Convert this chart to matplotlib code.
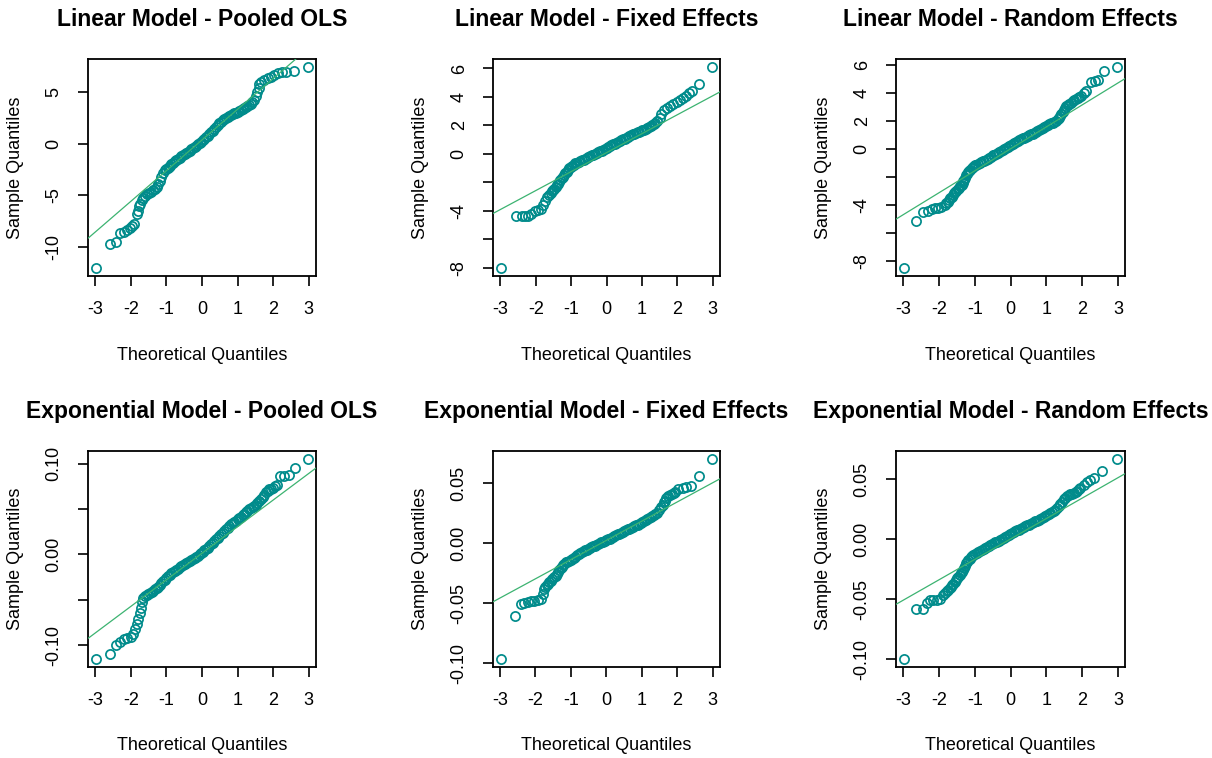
import numpy as np
import matplotlib.pyplot as plt

# Normal QQ plots of residuals for the six panel models

titles = ["Linear Model - Pooled OLS", "Linear Model - Fixed Effects",
          "Linear Model - Random Effects", "Exponential Model - Pooled OLS",
          "Exponential Model - Fixed Effects", "Exponential Model - Random Effects"]

# (theoretical quantile, sample quantile) per panel
lin_pooled = [
    (-2.97, -12.0), (-2.58, -9.71), (-2.42, -9.54), (-2.30, -8.63), (-2.19, -8.50), (-2.10, -8.30),
    (-2.02, -8.17), (-1.97, -7.97), (-1.91, -7.75), (-1.84, -6.76), (-1.81, -6.54), (-1.77, -6.01),
    (-1.74, -5.78), (-1.70, -5.42), (-1.65, -5.23), (-1.60, -5.03), (-1.54, -4.90), (-1.48, -4.77),
    (-1.43, -4.64), (-1.37, -4.51), (-1.32, -4.41), (-1.28, -4.18), (-1.23, -3.92), (-1.18, -3.59),
    (-1.14, -3.20), (-1.09, -2.84), (-1.04, -2.55), (-1.00, -2.45), (-0.97, -2.35), (-0.93, -2.24),
    (-0.90, -2.12), (-0.86, -1.98), (-0.81, -1.83), (-0.77, -1.70), (-0.72, -1.57), (-0.68, -1.45),
    (-0.63, -1.34), (-0.58, -1.22), (-0.53, -1.11), (-0.49, -1.02), (-0.44, -0.92), (-0.40, -0.81),
    (-0.35, -0.69), (-0.30, -0.55), (-0.25, -0.42), (-0.21, -0.31), (-0.16, -0.20), (-0.12, -0.07),
    (-0.07, 0.07), (-0.02, 0.20), (0.03, 0.33), (0.07, 0.47), (0.12, 0.62), (0.17, 0.78),
    (0.21, 0.92), (0.26, 1.08), (0.31, 1.24), (0.35, 1.42), (0.40, 1.60), (0.45, 1.78),
    (0.49, 1.96), (0.54, 2.12), (0.59, 2.25), (0.63, 2.37), (0.68, 2.48), (0.72, 2.59),
    (0.77, 2.68), (0.82, 2.76), (0.87, 2.84), (0.91, 2.93), (0.96, 3.01), (1.00, 3.09),
    (1.05, 3.17), (1.10, 3.25), (1.15, 3.33), (1.19, 3.43), (1.24, 3.53), (1.28, 3.64),
    (1.33, 3.76), (1.37, 3.87), (1.41, 3.99), (1.47, 4.25), (1.52, 4.58), (1.56, 5.00),
    (1.59, 5.42), (1.61, 5.75), (1.67, 5.98), (1.75, 6.18), (1.85, 6.34), (1.94, 6.47),
    (2.03, 6.67), (2.13, 6.86), (2.24, 6.92), (2.37, 6.95), (2.60, 6.97), (2.97, 7.40)]

lin_fixed = [
    (-2.97, -8.0), (-2.57, -4.34), (-2.40, -4.34), (-2.31, -4.34), (-2.22, -4.32), (-2.12, -4.22),
    (-2.03, -4.03), (-1.94, -3.92), (-1.85, -3.84), (-1.80, -3.61), (-1.75, -3.30), (-1.68, -3.02),
    (-1.62, -2.85), (-1.58, -2.74), (-1.54, -2.62), (-1.51, -2.52), (-1.48, -2.43), (-1.44, -2.31),
    (-1.40, -2.19), (-1.37, -2.08), (-1.34, -1.96), (-1.30, -1.84), (-1.27, -1.72), (-1.23, -1.60),
    (-1.20, -1.49), (-1.17, -1.37), (-1.13, -1.25), (-1.09, -1.13), (-1.05, -1.01), (-1.01, -0.92),
    (-0.97, -0.83), (-0.92, -0.74), (-0.88, -0.66), (-0.83, -0.60), (-0.78, -0.54), (-0.74, -0.50),
    (-0.69, -0.45), (-0.64, -0.39), (-0.60, -0.33), (-0.55, -0.27), (-0.51, -0.21), (-0.46, -0.15),
    (-0.42, -0.09), (-0.37, -0.05), (-0.32, 0.00), (-0.28, 0.06), (-0.23, 0.12), (-0.19, 0.18),
    (-0.14, 0.24), (-0.10, 0.30), (-0.05, 0.35), (0.00, 0.42), (0.05, 0.50), (0.09, 0.55),
    (0.14, 0.61), (0.18, 0.67), (0.23, 0.73), (0.28, 0.79), (0.32, 0.85), (0.37, 0.91),
    (0.42, 0.97), (0.46, 1.02), (0.51, 1.08), (0.55, 1.14), (0.60, 1.20), (0.64, 1.26),
    (0.69, 1.32), (0.74, 1.37), (0.78, 1.42), (0.83, 1.46), (0.88, 1.51), (0.92, 1.55),
    (0.97, 1.60), (1.01, 1.65), (1.06, 1.70), (1.11, 1.76), (1.15, 1.82), (1.20, 1.87),
    (1.25, 1.93), (1.29, 2.00), (1.34, 2.08), (1.38, 2.18), (1.43, 2.29), (1.50, 2.52),
    (1.55, 2.81), (1.62, 3.11), (1.71, 3.23), (1.80, 3.35), (1.89, 3.51), (1.99, 3.63),
    (2.08, 3.82), (2.17, 3.94), (2.26, 4.10), (2.34, 4.30), (2.43, 4.45), (2.61, 4.88),
    (2.97, 6.10)]

lin_random = [
    (-2.97, -8.50), (-2.65, -5.12), (-2.44, -4.50), (-2.30, -4.42), (-2.21, -4.30), (-2.13, -4.23),
    (-2.04, -4.18), (-1.95, -4.15), (-1.85, -3.99), (-1.80, -3.87), (-1.76, -3.75), (-1.72, -3.63),
    (-1.69, -3.51), (-1.65, -3.39), (-1.62, -3.27), (-1.59, -3.17), (-1.56, -3.08), (-1.52, -2.97),
    (-1.48, -2.86), (-1.44, -2.75), (-1.41, -2.64), (-1.37, -2.53), (-1.34, -2.43), (-1.32, -2.31),
    (-1.30, -2.19), (-1.27, -2.03), (-1.25, -1.88), (-1.22, -1.75), (-1.20, -1.63), (-1.16, -1.55),
    (-1.13, -1.47), (-1.09, -1.38), (-1.06, -1.30), (-1.03, -1.22), (-1.00, -1.15), (-0.96, -1.10),
    (-0.92, -1.06), (-0.87, -1.00), (-0.83, -0.94), (-0.78, -0.88), (-0.74, -0.82), (-0.69, -0.75),
    (-0.64, -0.67), (-0.60, -0.60), (-0.55, -0.53), (-0.50, -0.45), (-0.46, -0.38), (-0.41, -0.32),
    (-0.36, -0.26), (-0.32, -0.20), (-0.27, -0.14), (-0.22, -0.07), (-0.18, 0.00), (-0.13, 0.07),
    (-0.08, 0.14), (-0.04, 0.22), (0.01, 0.29), (0.06, 0.36), (0.10, 0.43), (0.15, 0.51),
    (0.20, 0.58), (0.24, 0.65), (0.29, 0.72), (0.34, 0.77), (0.38, 0.82), (0.43, 0.88),
    (0.48, 0.94), (0.52, 1.00), (0.57, 1.06), (0.62, 1.12), (0.66, 1.18), (0.71, 1.24),
    (0.75, 1.30), (0.80, 1.37), (0.85, 1.44), (0.89, 1.51), (0.94, 1.59), (0.99, 1.66),
    (1.03, 1.73), (1.08, 1.79), (1.13, 1.85), (1.17, 1.91), (1.22, 1.97), (1.27, 2.05),
    (1.31, 2.14), (1.35, 2.25), (1.39, 2.38), (1.42, 2.53), (1.45, 2.69), (1.49, 2.84),
    (1.52, 2.98), (1.55, 3.08), (1.59, 3.17), (1.64, 3.26), (1.69, 3.34), (1.74, 3.43),
    (1.78, 3.51), (1.83, 3.58), (1.87, 3.65), (1.92, 3.73), (1.97, 3.82), (2.04, 3.99),
    (2.12, 4.15), (2.25, 4.80), (2.36, 4.85), (2.45, 4.95), (2.60, 5.60), (2.96, 5.88)]

exp_pooled = [
    (-2.97, -0.1149), (-2.58, -0.1094), (-2.42, -0.1000), (-2.30, -0.0963), (-2.19, -0.0933),
    (-2.10, -0.0919), (-2.01, -0.0907), (-1.95, -0.0870), (-1.88, -0.0815), (-1.84, -0.0759),
    (-1.79, -0.0704), (-1.74, -0.0648), (-1.72, -0.0593), (-1.70, -0.0519), (-1.65, -0.0474),
    (-1.61, -0.0459), (-1.56, -0.0444), (-1.51, -0.0431), (-1.46, -0.0419), (-1.42, -0.0408),
    (-1.37, -0.0396), (-1.33, -0.0383), (-1.28, -0.0370), (-1.23, -0.0352), (-1.18, -0.0333),
    (-1.14, -0.0315), (-1.09, -0.0296), (-1.05, -0.0278), (-1.00, -0.0259), (-0.95, -0.0241),
    (-0.90, -0.0222), (-0.86, -0.0207), (-0.81, -0.0193), (-0.77, -0.0180), (-0.72, -0.0167),
    (-0.68, -0.0154), (-0.63, -0.0141), (-0.58, -0.0130), (-0.53, -0.0119), (-0.49, -0.0107),
    (-0.44, -0.0096), (-0.40, -0.0085), (-0.35, -0.0074), (-0.30, -0.0063), (-0.25, -0.0052),
    (-0.21, -0.0041), (-0.16, -0.0030), (-0.12, -0.0015), (-0.07, 0.0000), (-0.02, 0.0015),
    (0.03, 0.0030), (0.07, 0.0044), (0.12, 0.0059), (0.17, 0.0076), (0.21, 0.0093),
    (0.26, 0.0111), (0.31, 0.0130), (0.35, 0.0148), (0.40, 0.0167), (0.45, 0.0185),
    (0.49, 0.0204), (0.54, 0.0222), (0.59, 0.0241), (0.63, 0.0259), (0.68, 0.0278),
    (0.73, 0.0296), (0.77, 0.0315), (0.82, 0.0330), (0.87, 0.0344), (0.91, 0.0357),
    (0.96, 0.0370), (1.00, 0.0385), (1.05, 0.0400), (1.10, 0.0415), (1.15, 0.0430),
    (1.19, 0.0446), (1.24, 0.0463), (1.28, 0.0480), (1.33, 0.0496), (1.38, 0.0508),
    (1.43, 0.0519), (1.47, 0.0533), (1.52, 0.0548), (1.56, 0.0566), (1.61, 0.0585),
    (1.66, 0.0607), (1.71, 0.0630), (1.75, 0.0657), (1.80, 0.0685), (1.85, 0.0700),
    (1.89, 0.0715), (1.94, 0.0724), (1.99, 0.0733), (2.04, 0.0748), (2.10, 0.0766),
    (2.20, 0.0860), (2.31, 0.0868), (2.46, 0.0878), (2.63, 0.0946), (2.97, 0.1050)]

exp_fixed = [
    (-2.96, -0.0965), (-2.57, -0.0605), (-2.40, -0.0505), (-2.31, -0.0495), (-2.22, -0.0487),
    (-2.12, -0.0484), (-2.03, -0.0481), (-1.94, -0.0476), (-1.85, -0.0462), (-1.80, -0.0425),
    (-1.75, -0.0383), (-1.72, -0.0366), (-1.68, -0.0350), (-1.65, -0.0338), (-1.62, -0.0327),
    (-1.57, -0.0313), (-1.52, -0.0299), (-1.48, -0.0285), (-1.43, -0.0271), (-1.40, -0.0257),
    (-1.37, -0.0243), (-1.33, -0.0226), (-1.29, -0.0210), (-1.26, -0.0196), (-1.22, -0.0182),
    (-1.18, -0.0171), (-1.14, -0.0160), (-1.10, -0.0153), (-1.06, -0.0146), (-1.01, -0.0139),
    (-0.97, -0.0132), (-0.92, -0.0122), (-0.88, -0.0112), (-0.83, -0.0102), (-0.78, -0.0092),
    (-0.74, -0.0084), (-0.69, -0.0076), (-0.64, -0.0067), (-0.60, -0.0059), (-0.55, -0.0053),
    (-0.51, -0.0048), (-0.46, -0.0041), (-0.42, -0.0034), (-0.37, -0.0027), (-0.32, -0.0020),
    (-0.28, -0.0013), (-0.23, -0.0006), (-0.19, 0.0000), (-0.14, 0.0006), (-0.10, 0.0011),
    (-0.05, 0.0017), (0.00, 0.0024), (0.05, 0.0031), (0.09, 0.0038), (0.14, 0.0045),
    (0.18, 0.0052), (0.23, 0.0059), (0.28, 0.0066), (0.32, 0.0073), (0.37, 0.0080),
    (0.42, 0.0087), (0.46, 0.0094), (0.51, 0.0101), (0.55, 0.0108), (0.60, 0.0115),
    (0.64, 0.0122), (0.69, 0.0129), (0.74, 0.0136), (0.78, 0.0143), (0.83, 0.0148),
    (0.88, 0.0154), (0.92, 0.0161), (0.97, 0.0168), (1.01, 0.0175), (1.06, 0.0182),
    (1.11, 0.0190), (1.15, 0.0199), (1.20, 0.0207), (1.25, 0.0216), (1.29, 0.0224),
    (1.34, 0.0232), (1.38, 0.0242), (1.43, 0.0252), (1.50, 0.0274), (1.55, 0.0302),
    (1.59, 0.0320), (1.62, 0.0339), (1.65, 0.0355), (1.68, 0.0372), (1.75, 0.0392),
    (1.80, 0.0399), (1.85, 0.0406), (1.90, 0.0417), (1.94, 0.0428), (2.03, 0.0448),
    (2.15, 0.0462), (2.26, 0.0467), (2.40, 0.0478), (2.61, 0.0556), (2.97, 0.0701)]

exp_random = [
    (-2.97, -0.0999), (-2.64, -0.0582), (-2.44, -0.0580), (-2.35, -0.0530), (-2.25, -0.0510),
    (-2.16, -0.0505), (-2.07, -0.0505), (-1.97, -0.0496), (-1.88, -0.0468), (-1.84, -0.0452),
    (-1.79, -0.0435), (-1.75, -0.0421), (-1.71, -0.0407), (-1.68, -0.0396), (-1.64, -0.0384),
    (-1.60, -0.0370), (-1.57, -0.0356), (-1.53, -0.0342), (-1.50, -0.0328), (-1.46, -0.0314),
    (-1.43, -0.0300), (-1.40, -0.0286), (-1.36, -0.0272), (-1.33, -0.0255), (-1.30, -0.0238),
    (-1.27, -0.0220), (-1.24, -0.0202), (-1.21, -0.0188), (-1.18, -0.0174), (-1.14, -0.0162),
    (-1.11, -0.0151), (-1.07, -0.0141), (-1.04, -0.0132), (-0.99, -0.0124), (-0.94, -0.0115),
    (-0.90, -0.0106), (-0.85, -0.0098), (-0.80, -0.0090), (-0.76, -0.0081), (-0.71, -0.0072),
    (-0.66, -0.0064), (-0.62, -0.0056), (-0.57, -0.0048), (-0.52, -0.0041), (-0.48, -0.0034),
    (-0.43, -0.0027), (-0.38, -0.0020), (-0.34, -0.0013), (-0.29, -0.0006), (-0.24, 0.0003),
    (-0.20, 0.0011), (-0.15, 0.0020), (-0.10, 0.0028), (-0.06, 0.0036), (-0.01, 0.0045),
    (0.04, 0.0052), (0.08, 0.0059), (0.13, 0.0066), (0.18, 0.0073), (0.22, 0.0080),
    (0.27, 0.0087), (0.32, 0.0094), (0.36, 0.0101), (0.41, 0.0108), (0.46, 0.0115),
    (0.50, 0.0122), (0.55, 0.0129), (0.60, 0.0136), (0.64, 0.0143), (0.69, 0.0148),
    (0.74, 0.0154), (0.78, 0.0162), (0.83, 0.0171), (0.88, 0.0178), (0.93, 0.0185),
    (0.97, 0.0192), (1.02, 0.0199), (1.07, 0.0207), (1.11, 0.0216), (1.16, 0.0224),
    (1.21, 0.0233), (1.25, 0.0247), (1.30, 0.0261), (1.35, 0.0275), (1.39, 0.0289),
    (1.44, 0.0310), (1.49, 0.0331), (1.53, 0.0345), (1.58, 0.0359), (1.63, 0.0366),
    (1.67, 0.0373), (1.72, 0.0380), (1.77, 0.0387), (1.82, 0.0394), (1.86, 0.0401),
    (1.91, 0.0415), (1.95, 0.0429), (2.05, 0.0451), (2.14, 0.0480), (2.23, 0.0493),
    (2.32, 0.0507), (2.56, 0.0569), (2.96, 0.0668)]

# reference lines (intercept, slope)
qq_lines = [(0.36, 2.96), (0.09, 1.33), (0.03, 1.57),
            (0.0014, 0.0292), (0.0023, 0.0160), (0.0002, 0.0170)]

series = [lin_pooled, lin_fixed, lin_random, exp_pooled, exp_fixed, exp_random]

yticks = [[-10, -5, 0, 5],
          [-8, -6, -4, -2, 0, 2, 4, 6],
          [-8, -6, -4, -2, 0, 2, 4, 6],
          [-0.10, -0.05, 0.00, 0.05, 0.10],
          [-0.10, -0.05, 0.00, 0.05],
          [-0.10, -0.05, 0.00, 0.05]]
ytick_labels = [["-10", "-5", "0", "5"],
                ["-8", "", "-4", "", "0", "2", "4", "6"],
                ["-8", "", "-4", "", "0", "2", "4", "6"],
                ["-0.10", "", "0.00", "", "0.10"],
                ["-0.10", "-0.05", "0.00", "0.05"],
                ["-0.10", "-0.05", "0.00", "0.05"]]

plt.rcParams['font.family'] = ['Liberation Sans', 'DejaVu Sans']

fig = plt.figure(figsize=(12.12, 7.58), dpi=100)
W, H = 1212, 758
cols = [(88, 316), (493, 720), (896, 1125)]
rows = [(59, 276), (451, 667)]

point_col = '#008B8B'
line_col = '#3CB371'

for i in range(6):
    r, c = divmod(i, 3)
    x0, x1 = cols[c]
    y0, y1 = rows[r]
    ax = fig.add_axes([x0 / W, 1 - y1 / H, (x1 - x0) / W, (y1 - y0) / H])

    qx, qy = np.array(series[i]).T
    ax.plot(qx, qy, 'o', mfc='none', mec=point_col, ms=6.6, mew=1.25, zorder=2)
    a, b = qq_lines[i]
    ax.axline((0, a), slope=b, color=line_col, lw=0.9, zorder=3)

    # R style 4% padding around the data
    xr = qx.max() - qx.min()
    yr = qy.max() - qy.min()
    ax.set_xlim(qx.min() - 0.04 * xr, qx.max() + 0.04 * xr)
    ax.set_ylim(qy.min() - 0.04 * yr, qy.max() + 0.04 * yr)

    ax.set_xticks([-3, -2, -1, 0, 1, 2, 3])
    ax.set_xticklabels(["-3", "-2", "-1", "0", "1", "2", "3"])
    ax.set_yticks(yticks[i])
    ax.set_yticklabels(ytick_labels[i], rotation=90, va='center')

    ax.tick_params(axis='both', direction='out', length=7.2, width=1.2,
                   labelsize=13, colors='black')
    ax.tick_params(axis='x', pad=10.5)
    ax.tick_params(axis='y', pad=11)
    for s in ax.spines.values():
        s.set_linewidth(1.3)

    ax.set_title(titles[i], fontsize=16.5, fontweight='bold', pad=24)
    ax.set_xlabel("Theoretical Quantiles", fontsize=13)
    ax.set_ylabel("Sample Quantiles", fontsize=13)
    ax.xaxis.set_label_coords(0.5, -0.325)
    ax.yaxis.set_label_coords(-0.28, 0.5)

fig.savefig("out.png", dpi=100)
